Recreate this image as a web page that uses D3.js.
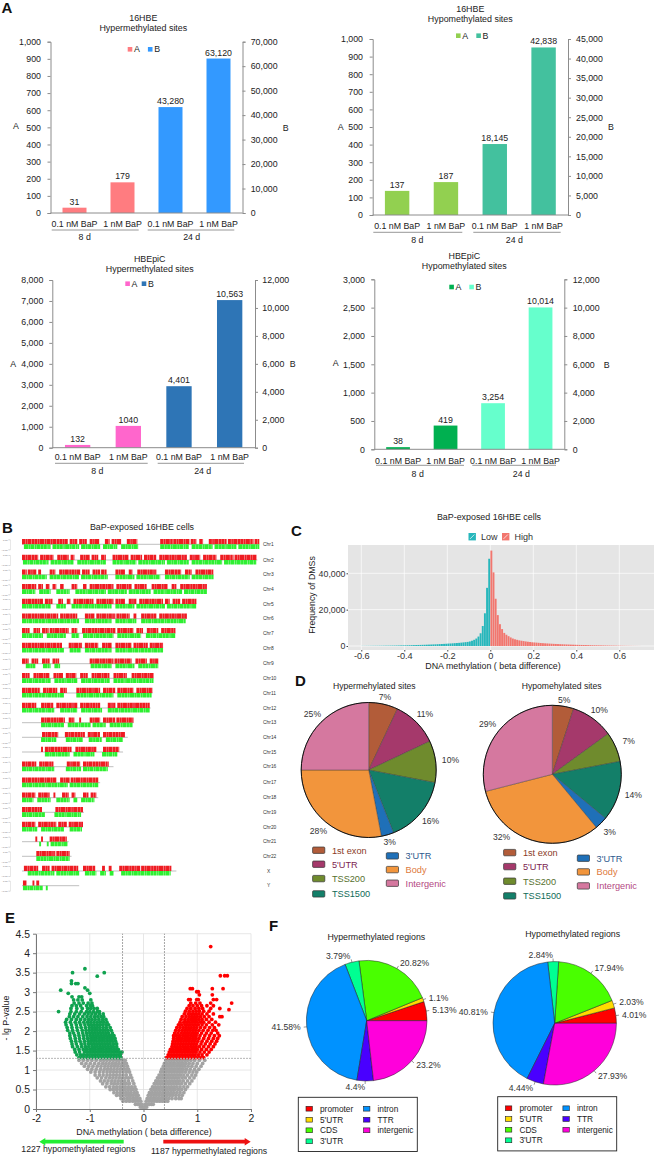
<!DOCTYPE html>
<html>
<head>
<meta charset="utf-8">
<script src="https://d3js.org/d3.v7.min.js"></script>
<style>
  body { margin: 0; background: #fff; }
  text { font-family: "Liberation Sans", Arial, sans-serif; fill: #222; }
</style>
</head>
<body>
<svg id="fig" width="659" height="1156"></svg>
<script>
// panel A: bar values, the first two bars read on axis A, the last two on axis B
var doseLabels = ["0.1 nM BaP", "1 nM BaP", "0.1 nM BaP", "1 nM BaP"];
var timeLabels = ["8 d", "24 d"];
var hbeHyperA = [31, 179], hbeHyperB = [43280, 63120];
var hbeHypoA = [137, 187], hbeHypoB = [18145, 42838];
var epicHyperA = [132, 1040], epicHyperB = [4401, 10563];
var epicHypoA = [38, 419], epicHypoB = [3254, 10014];

// panel B: chromosomes, lengths and covered stretches in Mb
var chrNames = ["Chr1","Chr2","Chr3","Chr4","Chr5","Chr6","Chr7","Chr8","Chr9","Chr10","Chr11","Chr12","Chr13","Chr14","Chr15","Chr16","Chr17","Chr18","Chr19","Chr20","Chr21","Chr22","X","Y"];
var chrLengths = [249,247,201,194,183,173,161,148,143,138,137,135,117,111,106,96,82,80,65,64,49,52,162,60];
var chrHigh = [
  [[0,48],[50,58],[60,68],[71,81],[87,92],[94,104],[110,121],[145,159],[159,176],[177,183],[186,190],[196,215],[216,229],[229,243],[244,249]],
  [[0,17],[19,33],[37,49],[51,55],[61,71],[73,80],[83,88],[95,112],[114,126],[128,141],[144,173],[176,187],[190,204],[208,222],[223,246]],
  [[0,5],[6,15],[17,20],[29,35],[39,61],[63,71],[74,82],[83,89],[98,108],[112,116],[121,141],[150,167],[171,178],[182,201]],
  [[0,15],[17,22],[25,29],[32,36],[40,44],[52,58],[64,68],[71,96],[99,115],[118,131],[136,153],[157,162],[166,194]],
  [[0,22],[24,32],[38,43],[47,51],[54,75],[78,96],[98,108],[112,120],[123,148],[150,155],[158,166],[168,183]],
  [[0,38],[40,58],[66,76],[78,98],[99,113],[117,120],[125,141],[144,173]],
  [[0,8],[12,19],[21,28],[29,49],[52,58],[63,98],[100,117],[120,127],[131,143],[146,161]],
  [[0,42],[49,63],[66,80],[84,94],[98,115],[117,132],[134,148]],
  [[0,7],[10,17],[21,29],[32,39],[71,96],[97,115],[119,131],[134,143]],
  [[0,8],[12,29],[33,43],[46,57],[61,69],[73,92],[96,110],[115,138]],
  [[0,19],[22,37],[40,47],[57,82],[85,98],[100,117],[120,137]],
  [[0,15],[20,33],[36,58],[61,82],[90,98],[100,134]],
  [[20,45],[49,55],[60,62],[71,82],[85,98],[99,117]],
  [[21,38],[45,66],[69,82],[85,108]],
  [[20,22],[24,52],[56,78],[85,102]],
  [[0,15],[18,33],[47,61],[64,91]],
  [[0,36],[40,50],[51,80]],
  [[0,14],[17,29],[33,35],[42,49],[52,56],[64,70],[72,78]],
  [[0,21],[35,64]],
  [[0,14],[17,36],[38,47],[49,64]],
  [[14,16],[20,22],[29,47]],
  [[15,35],[36,50]],
  [[2,17],[21,29],[31,59],[64,77],[84,87],[91,94],[102,124],[125,157]],
  [[1,5],[11,13],[15,18]]
];
var chrLow = [
  [[2,30],[32,60],[62,82],[85,100],[104,122],[145,175],[178,200],[202,225],[227,249]],
  [[1,28],[30,54],[58,88],[95,120],[122,150],[152,175],[178,210],[212,246]],
  [[0,26],[29,60],[62,90],[98,118],[120,145],[150,176],[178,201]],
  [[0,14],[18,30],[36,50],[56,88],[90,110],[112,135],[138,168],[170,194]],
  [[0,30],[36,46],[52,94],[98,118],[120,150],[152,183]],
  [[0,60],[66,94],[98,120],[125,172]],
  [[0,22],[26,46],[52,60],[64,96],[100,125],[130,161]],
  [[0,44],[50,62],[66,94],[98,148]],
  [[4,14],[22,30],[34,40],[72,94],[98,118],[122,143]],
  [[0,30],[34,58],[62,92],[96,138]],
  [[0,44],[57,96],[100,136]],
  [[0,34],[40,58],[62,84],[90,134]],
  [[20,44],[48,72],[74,88],[92,116]],
  [[20,36],[46,64],[70,84],[88,106]],
  [[24,50],[54,76],[84,100]],
  [[0,34],[46,62],[64,90]],
  [[0,48],[50,80]],
  [[0,12],[16,30],[36,50],[54,58],[62,76]],
  [[0,24],[34,62]],
  [[0,16],[20,44],[50,63]],
  [[18,20],[26,28],[30,48]],
  [[15,50]],
  [[6,34],[36,60],[66,78],[82,88],[92,96],[104,156]],
  [[1,22],[25,27]]
];

// panel C: counts per 0.01 wide bin, from -0.6 up to 0 and from 0 up to 0.7
var binWidth = 0.01;
var histLow = [60,65,80,90,95,110,125,130,145,150,170,185,195,210,235,250,265,290,320,340,370,395,425,450,485,520,565,595,640,680,725,765,820,875,915,980,1040,1105,1165,1240,1330,1385,1470,1560,1640,1735,1855,1970,2110,2250,2500,2900,3400,4100,5200,7000,11000,18000,32000,48000];
var histHigh = [52500,40500,26000,17000,12000,9300,7200,6200,5400,4700,4100,3700,3400,3100,2900,2700,2500,2350,2200,2050,1950,1850,1750,1650,1550,1470,1400,1320,1250,1180,1120,1060,1000,950,900,850,800,760,720,680,640,600,570,540,510,480,450,420,400,380,350,330,310,290,270,250,230,210,190,170,150,130,110,95,80,65,50,40,30,20];

// panel D: share of sites by region, percent
var siteRegions = ["1st exon","5'UTR","TSS200","TSS1500","3'UTR","Body","Intergenic"];
var siteHyper = [7,11,10,16,3,28,25];
var siteHypo = [5,10,7,14,3,32,29];

// panel E: -lg P rows, each row is [y, beta differences]
var volcanoGrey = [
  [.05,[-.06,-.03,-.01,.01,.03,.06]],
  [.12,[-.15,-.11,-.07,-.03,.03,.07,.11,.15,.18]],
  [.2,[-.38,-.32,-.26,-.2,-.15,-.1,-.05,.05,.1,.15,.2,.25,.3,.35,.4,.45]],
  [.27,[-.42,-.36,-.3,-.25,-.2,-.16,-.12,-.07,.07,.12,.17,.22,.27,.32,.37,.42,.47,.53,.6,.66,.7]],
  [.35,[-.5,-.44,-.39,-.33,-.28,-.24,-.19,-.14,-.1,.09,.14,.19,.24,.29,.34,.39,.44,.49,.54,.6,.66,.72]],
  [.42,[-.55,-.49,-.43,-.38,-.33,-.28,-.23,-.17,-.12,.11,.16,.21,.26,.31,.36,.41,.46,.51,.56,.62,.68,.75]],
  [.5,[-.62,-.56,-.5,-.44,-.39,-.34,-.29,-.24,-.19,-.14,.14,.19,.24,.29,.34,.39,.44,.49,.54,.59,.65,.71,.78]],
  [.57,[-.7,-.63,-.56,-.5,-.44,-.39,-.34,-.28,-.22,-.16,.17,.22,.27,.32,.37,.42,.47,.52,.57,.62,.68,.75,.82]],
  [.65,[-.76,-.68,-.6,-.54,-.48,-.42,-.37,-.32,-.26,-.18,.2,.25,.3,.35,.4,.45,.5,.55,.6,.65,.71,.78,.86]],
  [.72,[-.8,-.73,-.66,-.59,-.53,-.47,-.41,-.35,-.28,-.2,.23,.28,.33,.38,.43,.48,.53,.58,.63,.68,.74,.82,.9]],
  [.8,[-.86,-.78,-.7,-.63,-.57,-.51,-.45,-.39,-.33,-.28,-.22,.26,.31,.36,.41,.46,.51,.56,.61,.66,.72,.78,.86,.94]],
  [.87,[-.9,-.82,-.75,-.68,-.62,-.56,-.5,-.44,-.38,-.32,-.24,.29,.34,.39,.44,.49,.54,.59,.64,.69,.75,.82,.9,.97]],
  [.95,[-.98,-.9,-.82,-.75,-.68,-.62,-.56,-.5,-.44,-.38,-.32,-.26,.32,.37,.42,.47,.52,.57,.62,.67,.72,.78,.85,.92,.99]],
  [1.02,[-1.04,-.96,-.88,-.8,-.73,-.67,-.61,-.55,-.49,-.43,-.37,-.32,-.28,.34,.39,.44,.49,.54,.59,.64,.69,.74,.8,.87,.95,1.03]],
  [1.1,[-1.1,-1.02,-.94,-.86,-.79,-.72,-.66,-.6,-.54,-.48,-.42,-.36,-.3,.37,.42,.47,.52,.57,.62,.67,.72,.77,.83,.9,.98,1.07]],
  [1.17,[-1.15,-1.07,-.99,-.91,-.83,-.76,-.7,-.64,-.58,-.52,-.46,-.4,-.35,-.32,.39,.44,.49,.54,.59,.64,.69,.74,.79,.85,.92,1,1.1]],
  [1.25,[-1.2,-1.12,-1.04,-.96,-.88,-.8,-.74,-.68,-.62,-.56,-.5,-.45,-.39,-.34,.42,.47,.52,.57,.62,.67,.72,.77,.82,.88,.95,1.04,1.14]]
];
var volcanoHypo = [
  [1.32,[-1.2,-1.15,-1.1,-1.05,-1,-.95,-.9,-.85,-.8,-.75,-.7,-.65,-.6,-.55,-.5,-.45,-.42]],
  [1.39,[-1.24,-1.17,-1.12,-1.06,-1.01,-.96,-.91,-.86,-.81,-.76,-.71,-.66,-.61,-.56,-.51,-.46,-.43]],
  [1.46,[-1.27,-1.19,-1.1,-1.04,-.99,-.94,-.89,-.84,-.79,-.74,-.69,-.64,-.59,-.54,-.49,-.44,-.4]],
  [1.53,[-1.28,-1.2,-1.12,-1.06,-1,-.95,-.9,-.85,-.8,-.75,-.7,-.65,-.6,-.55,-.5,-.47]],
  [1.6,[-1.32,-1.23,-1.15,-1.08,-1.02,-.96,-.91,-.86,-.81,-.76,-.71,-.66,-.61,-.56,-.5]],
  [1.67,[-1.33,-1.25,-1.16,-1.09,-1.02,-.97,-.92,-.87,-.82,-.77,-.72,-.67,-.62,-.56,-.5]],
  [1.74,[-1.34,-1.26,-1.18,-1.1,-1.03,-.98,-.93,-.88,-.83,-.78,-.73,-.68,-.63,-.58,-.52]],
  [1.81,[-1.36,-1.27,-1.19,-1.11,-1.04,-.98,-.93,-.88,-.83,-.78,-.73,-.68,-.63,-.58,-.53]],
  [1.88,[-1.37,-1.28,-1.2,-1.12,-1.05,-.99,-.94,-.89,-.84,-.79,-.74,-.69,-.64,-.6,-.55]],
  [1.95,[-1.37,-1.3,-1.21,-1.13,-1.06,-1,-.95,-.9,-.85,-.8,-.75,-.7,-.65,-.58]],
  [2.02,[-1.41,-1.32,-1.23,-1.14,-1.07,-1.01,-.96,-.91,-.86,-.81,-.76,-.71,-.66,-.6]],
  [2.09,[-1.42,-1.33,-1.24,-1.16,-1.08,-1.01,-.96,-.91,-.86,-.81,-.75,-.69,-.62]],
  [2.16,[-1.44,-1.34,-1.25,-1.17,-1.09,-1.02,-.97,-.92,-.87,-.82,-.76,-.7,-.65]],
  [2.23,[-1.45,-1.36,-1.27,-1.19,-1.11,-1.04,-.98,-.92,-.86,-.8,-.74,-.68]],
  [2.3,[-1.43,-1.34,-1.25,-1.17,-1.09,-1.02,-.96,-.9,-.83,-.76,-.7]],
  [2.37,[-1.38,-1.3,-1.22,-1.13,-1.05,-.98,-.91,-.85,-.79,-.74]],
  [2.44,[-1.37,-1.28,-1.19,-1.1,-1.03,-.96,-.89,-.82,-.75]],
  [2.5,[-1.58,-1.35,-1.25,-1.16,-1.06,-1,-.93,-.86,-.82]],
  [2.58,[-1.35,-1.24,-1.14,-1.04,-.98,-.92,-.86]],
  [2.65,[-1.33,-1.25,-1.17,-1.06,-.99,-.95]],
  [2.72,[-1.29,-1.2,-1.12,-1.03,-.96]],
  [2.8,[-1.3,-1.22,-1.14,-.98]],
  [2.88,[-1.33,-1.2,-1.15]],
  [2.97,[-1.4,-1]],
  [3.05,[-1.54,-1.04]],
  [3.11,[-1.09]],
  [3.22,[-1.34,-1.26,-1.22]],
  [3.29,[-1.34]],
  [3.41,[-.86]],
  [3.5,[-1.32,-.73]],
  [3.6,[-1.09]]
];
var volcanoHyper = [
  [1.32,[.43,.48,.53,.58,.63,.68,.73,.78,.83,.88,.93,.98,1.03,1.08,1.12]],
  [1.39,[.46,.51,.56,.61,.66,.71,.76,.81,.86,.91,.96,1.02,1.09,1.18]],
  [1.46,[.48,.53,.58,.63,.68,.73,.78,.83,.88,.93,.98,1.05,1.13,1.22]],
  [1.53,[.5,.55,.6,.65,.7,.75,.8,.85,.9,.95,1,1.08,1.17,1.26]],
  [1.6,[.53,.58,.63,.68,.73,.78,.83,.88,.93,.98,1.04,1.12,1.21,1.3]],
  [1.67,[.54,.59,.64,.69,.74,.79,.84,.89,.94,.99,1.07,1.15,1.24,1.33]],
  [1.74,[.55,.6,.65,.7,.75,.8,.85,.9,.95,1.01,1.09,1.18,1.27,1.36]],
  [1.81,[.56,.62,.67,.72,.77,.82,.87,.92,.97,1.03,1.12,1.21,1.3,1.38]],
  [1.88,[.56,.61,.67,.73,.78,.83,.88,.93,.98,1.05,1.14,1.23,1.32,1.41]],
  [1.95,[.58,.64,.7,.75,.8,.85,.9,.95,1,1.08,1.17,1.26,1.38]],
  [2.02,[.6,.66,.72,.77,.82,.87,.92,.97,1.03,1.11,1.2,1.29,1.35]],
  [2.09,[.62,.68,.74,.79,.84,.89,.94,.99,1.06,1.14,1.23,1.32]],
  [2.16,[.65,.71,.77,.82,.87,.92,.97,1.02,1.09,1.17,1.28,1.4]],
  [2.23,[.68,.75,.8,.85,.9,.95,1,1.06,1.12,1.22,1.34]],
  [2.3,[.7,.77,.83,.88,.93,.98,1.03,1.09,1.17,1.27]],
  [2.37,[.72,.79,.85,.9,.95,1,1.06,1.13,1.22,1.42,1.46]],
  [2.44,[.76,.83,.88,.93,.98,1.03,1.09,1.18,1.3]],
  [2.51,[.78,.85,.92,.98,1.04,1.12,1.22]],
  [2.55,[1.59]],
  [2.58,[.81,.88,.96,1.03,1.1,1.25,1.42]],
  [2.65,[.85,.92,1,1.08,1.18,1.3]],
  [2.72,[.88,.97,1.05,1.25,1.64]],
  [2.81,[.84,.87,.99,1.02,1.3,1.36]],
  [2.93,[1.04,1.28]],
  [3.01,[.99,1.02]],
  [3.09,[.87,.91,1.28,1.48]],
  [3.42,[1.43,1.51,1.56]],
  [4.17,[1.25]]
];

// panel F: share of regions by feature, percent
var regionNames = ["promoter","5'UTR","CDS","3'UTR","intron","TTR","intergenic"];
var regionHyper = [5.13,1.1,20.82,3.79,41.58,4.4,23.2];
var regionHypo = [4.01,2.03,17.94,2.84,40.81,4.44,27.93];

var svg = d3.select("#fig");
var tickFont = 8.8, titleFont = 8.9;

var blur = svg.append("defs").append("filter").attr("id", "soft");
blur.append("feGaussianBlur").attr("stdDeviation", 0.35);

function label(g, x, y, txt, size, anchor, color) {
  return g.append("text").attr("x", x).attr("y", y).attr("dy", "0.35em")
    .attr("text-anchor", anchor || "middle").style("font-size", (size || tickFont) + "px")
    .style("fill", color || "#222").text(txt);
}

function barPanel(p) {
  var g = svg.append("g");
  var x = d3.scaleBand().domain(d3.range(4)).range([p.left, p.right]).paddingInner(0.5).paddingOuter(0.25);
  var yA = d3.scaleLinear().domain([0, p.maxA]).range([p.bottom, p.top]);
  var yB = d3.scaleLinear().domain([0, p.maxB]).range([p.bottom, p.top]);
  var fmt = d3.format(",");
  var bars = p.a.map(function(v, i) { return {i: i, v: v, y: yA(v), c: p.colors[0], t: String(v)}; })
    .concat(p.b.map(function(v, i) { return {i: i + 2, v: v, y: yB(v), c: p.colors[1], t: fmt(v)}; }));

  g.selectAll("rect.bar").data(bars).enter().append("rect").attr("class", "bar")
    .attr("x", function(d) { return x(d.i); })
    .attr("y", function(d) { return d.y; })
    .attr("width", x.bandwidth())
    .attr("height", function(d) { return p.bottom - d.y; })
    .style("fill", function(d) { return d.c; });

  g.selectAll("text.val").data(bars).enter().append("text").attr("class", "val")
    .attr("x", function(d) { return x(d.i) + x.bandwidth() / 2; })
    .attr("y", function(d) { return d.y - 3; })
    .attr("text-anchor", "middle").style("font-size", tickFont + "px")
    .text(function(d) { return d.t; });

  var left = g.append("g").attr("transform", "translate(" + p.left + ",0)")
    .call(d3.axisLeft(yA).tickValues(d3.range(0, p.maxA + 1, p.stepA)).tickFormat(fmt).tickSize(3).tickSizeOuter(3));
  var right = g.append("g").attr("transform", "translate(" + p.right + ",0)")
    .call(d3.axisRight(yB).tickValues(d3.range(0, p.maxB + 1, p.stepB)).tickFormat(fmt).tickSize(3).tickSizeOuter(3));
  [left, right].forEach(function(a) {
    a.selectAll("path,line").style("stroke", "#8c8c8c");
    a.selectAll("text").style("font-size", tickFont + "px").style("font-family", "Liberation Sans").style("fill", "#222");
  });
  left.selectAll("text").attr("x", p.tickL - p.left);
  right.selectAll("text").attr("x", p.tickR - p.right);
  g.append("line").attr("x1", p.left).attr("x2", p.right).attr("y1", p.bottom).attr("y2", p.bottom).style("stroke", "#8c8c8c");

  p.title.forEach(function(t, i) { label(g, p.titleX, p.titleY[i], t, titleFont); });
  label(g, p.labelA[0], p.labelA[1], "A");
  label(g, p.labelB[0], p.labelB[1], "B");

  p.legend.forEach(function(l, i) {
    g.append("rect").attr("x", l).attr("y", p.legendY - 2.3).attr("width", 4.6).attr("height", 4.6).style("fill", p.colors[i]);
    label(g, l + 6.3, p.legendY, ["A", "B"][i], 8.8, "start");
  });

  doseLabels.forEach(function(t, i) { label(g, x(i) + x.bandwidth() / 2, p.catY, t); });
  timeLabels.forEach(function(t, i) {
    g.append("line").attr("x1", p.under[i][0]).attr("x2", p.under[i][1]).attr("y1", p.underY).attr("y2", p.underY)
      .style("stroke", "#8c8c8c").style("stroke-width", 0.9);
    label(g, p.timeX[i], p.timeY, t);
  });
}

barPanel({left: 50.5, right: 242.5, top: 41.7, bottom: 213, maxA: 1000, stepA: 100, maxB: 70000, stepB: 10000,
  a: hbeHyperA, b: hbeHyperB, colors: ["#FF7C80", "#3399FF"], title: ["16HBE", "Hypermethylated sites"],
  titleX: 143.3, titleY: [17.7, 28.3], labelA: [16, 125.7], labelB: [285.7, 128], legend: [127.7, 147.9], legendY: 49.3,
  tickL: 41, tickR: 250.7, catY: 224, under: [[51.7, 138.7], [147.7, 234.3]], underY: 230, timeX: [84.7, 191.7], timeY: 237.3});
barPanel({left: 372.7, right: 568, top: 39, bottom: 215, maxA: 1000, stepA: 100, maxB: 45000, stepB: 5000,
  a: hbeHypoA, b: hbeHypoB, colors: ["#92D050", "#43C19E"], title: ["16HBE", "Hypomethylated sites"],
  titleX: 470.3, titleY: [8.7, 19.3], labelA: [340.7, 127.3], labelB: [611, 127.3], legend: [456, 476.3], legendY: 35.7,
  tickL: 363, tickR: 576, catY: 225.7, under: [[373.3, 462.3], [473.3, 560.7]], underY: 232.3, timeX: [417.3, 514.3], timeY: 240.3});
barPanel({left: 52.3, right: 255, top: 280, bottom: 447.7, maxA: 8000, stepA: 1000, maxB: 12000, stepB: 2000,
  a: epicHyperA, b: epicHyperB, colors: ["#FF66CC", "#2E75B6"], title: ["HBEpiC", "Hypermethylated sites"],
  titleX: 149.7, titleY: [259, 269], labelA: [13.3, 364], labelB: [292.7, 364.3], legend: [125.3, 141.7], legendY: 283.7,
  tickL: 43.3, tickR: 262.3, catY: 457.3, under: [[55, 147.7], [157.7, 244]], underY: 463.3, timeX: [97.3, 202.7], timeY: 471});
barPanel({left: 374.3, right: 564.3, top: 279.3, bottom: 449.3, maxA: 3000, stepA: 500, maxB: 12000, stepB: 2000,
  a: epicHypoA, b: epicHypoB, colors: ["#00B050", "#66FFCC"], title: ["HBEpiC", "Hypomethylated sites"],
  titleX: 464.3, titleY: [255.7, 266], labelA: [335.7, 363], labelB: [606.7, 364.7], legend: [449.3, 469.3], legendY: 287,
  tickL: 365, tickR: 572.7, catY: 460.7, under: [[376, 464], [472.3, 556]], underY: 465.3, timeX: [417.7, 521.3], timeY: 473.7});

// panel letters
[["A", 1.5, 12.5], ["B", 2, 533], ["C", 291, 535.5], ["D", 295, 685.5], ["E", 5, 922.5], ["F", 269, 931]].forEach(function(l) {
  svg.append("text").attr("x", l[1]).attr("y", l[2]).style("font-size", "15px").style("font-weight", "bold").style("fill", "#111").text(l[0]);
});

// panel B
(function() {
  var g = svg.append("g");
  var bands = g.append("g").attr("filter", "url(#soft)");
  var rowY = [544.3,560,574.7,589.3,604,618.7,633.3,648,663.7,678.3,693,708,722.7,737.3,752,766.7,782.7,797.7,812.3,827,841.7,856.3,871,885.7];
  var x = d3.scaleLinear().domain([0, 249]).range([22, 259.3]);
  label(g, 142, 526.7, "BaP-exposed 16HBE cells", 8.9);

  chrNames.forEach(function(name, i) {
    var y = rowY[i];
    bands.append("line").attr("x1", x(0)).attr("x2", x(chrLengths[i])).attr("y1", y).attr("y2", y)
      .style("stroke", "#b8b8b8").style("stroke-width", 0.9);
    // dash pattern stands in for the comb of single sites inside a stretch
    bands.selectAll("line.hi" + i).data(chrHigh[i]).enter().append("line").attr("class", "hi" + i)
      .attr("x1", function(d) { return x(d[0]); }).attr("x2", function(d) { return x(d[1]); })
      .attr("y1", y - 2.6).attr("y2", y - 2.6)
      .style("stroke", "#EE1B24").style("stroke-width", 5.2).style("stroke-dasharray", "3.1 .3 1.7 .25 4.3 .35 2.2 .25");
    bands.selectAll("line.lo" + i).data(chrLow[i]).enter().append("line").attr("class", "lo" + i)
      .attr("x1", function(d) { return x(d[0]); }).attr("x2", function(d) { return x(d[1]); })
      .attr("y1", y + 2.3).attr("y2", y + 2.3)
      .style("stroke", "#2FEF32").style("stroke-width", 4.6).style("stroke-dasharray", "4.1 .3 2.3 .25 3.4 .4 1.6 .25");
    var s = d3.scaleLinear().domain([-0.6, 0.6]).range([y + 5, y - 5]);
    var ax = g.append("g").attr("transform", "translate(10,0)")
      .call(d3.axisLeft(s).tickValues([-0.6, 0.6]).tickSize(1.6).tickPadding(0.8).tickFormat(d3.format(".2f")));
    ax.selectAll("path,line").style("stroke", "#bbb").style("stroke-width", 0.35);
    ax.selectAll("text").style("font-size", "2.4px").style("font-family", "Liberation Sans").style("fill", "#666");
    label(g, name.length == 1 ? 267 : 263, y, name, 4.9, "start", "#333");
  });
})();

// panel C
(function() {
  var g = svg.append("g");
  var L = 348, R = 654, T = 545, B = 650;
  var x = d3.scaleLinear().domain([-0.6, 0.6]).range([361.3, 619.3]);
  var y = d3.scaleLinear().domain([0, 40000]).range([646, 573.3]);
  g.append("rect").attr("x", L).attr("y", T).attr("width", R - L).attr("height", B - T).style("fill", "#E5E5E5");
  [-0.6, -0.4, -0.2, 0, 0.2, 0.4, 0.6].forEach(function(v) {
    g.append("line").attr("x1", x(v)).attr("x2", x(v)).attr("y1", T).attr("y2", B).style("stroke", "#fff").style("stroke-width", 0.7);
  });
  [0, 20000, 40000].forEach(function(v) {
    g.append("line").attr("x1", L).attr("x2", R).attr("y1", y(v)).attr("y2", y(v)).style("stroke", "#fff").style("stroke-width", 0.7);
  });
  var bins = histLow.map(function(v, i) { return {start: -0.6 + i * binWidth, v: v, c: "#27B7BC"}; })
    .concat(histHigh.map(function(v, i) { return {start: i * binWidth, v: v, c: "#F2766E"}; }));
  g.selectAll("rect.bin").data(bins).enter().append("rect").attr("class", "bin")
    .attr("x", function(d) { return x(d.start) + 0.1; })
    .attr("width", x(binWidth) - x(0) - 0.25)
    .attr("y", function(d) { return y(d.v); })
    .attr("height", function(d) { return y(0) - y(d.v); })
    .style("fill", function(d) { return d.c; });

  var ax = g.append("g").attr("transform", "translate(0," + B + ")")
    .call(d3.axisBottom(x).tickValues([-0.6, -0.4, -0.2, 0, 0.2, 0.4, 0.6]).tickSize(1.5).tickPadding(1).tickSizeOuter(0).tickFormat(function(d) { return d == 0 ? "0" : d3.format(".1f")(d).replace("\u2212", "-"); }));
  var ay = g.append("g").attr("transform", "translate(" + L + ",0)")
    .call(d3.axisLeft(y).tickValues([0, 20000, 40000]).tickSize(1.5).tickPadding(1).tickSizeOuter(0).tickFormat(d3.format(",")));
  [ax, ay].forEach(function(a) {
    a.select("path").remove();
    a.selectAll("line").style("stroke", "#444");
    a.selectAll("text").style("font-family", "Liberation Sans").style("fill", "#333");
  });
  ax.selectAll("text").style("font-size", "9.2px");
  ay.selectAll("text").style("font-size", "8.8px");
  label(g, 489, 516.7, "BaP-exposed 16HBE cells", 8.9);
  label(g, 493, 665.5, "DNA methylation ( beta difference)", 8.9);
  label(g, 0, 0, "Frequency of DMSs", 8.8).attr("transform", "translate(312,595) rotate(-90)");
  [[468.5, "Low", "#27B7BC"], [502, "High", "#F2766E"]].forEach(function(k) {
    g.append("rect").attr("x", k[0]).attr("y", 533).attr("width", 7.4).attr("height", 7.4).style("fill", k[2]);
    g.append("line").attr("x1", k[0] + 1.5).attr("x2", k[0] + 5.9).attr("y1", 538.9).attr("y2", 534.5).style("stroke", "#fff").style("stroke-width", 0.7);
    label(g, k[0] + 12.5, 536.7, k[1], 9, "start", "#333");
  });
})();

// panels D and F
var siteColors = ["#B25C39", "#A5396B", "#6F8B2D", "#137F69", "#1F70B8", "#F2953C", "#D5789F"];
var siteTextColors = ["#8A3B1F", "#7B2450", "#56702E", "#0F6B58", "#2E5A8E", "#DE7A3C", "#B4487F"];
var regionColors = ["#FF0000", "#FFDB00", "#49FF00", "#00FF92", "#0092FF", "#4900FF", "#FF00DB"];

function sitePie(p) {
  var g = svg.append("g").attr("transform", "translate(" + p.cx + "," + p.cy + ")");
  var arcs = d3.pie().sort(null)(p.values);
  var arc = d3.arc().innerRadius(0).outerRadius(p.r);
  g.selectAll("path").data(arcs).enter().append("path").attr("d", arc)
    .style("fill", function(d, i) { return siteColors[i]; })
    .style("stroke", "#3a3a3a").style("stroke-width", 0.4);
  g.append("circle").attr("r", p.r).style("fill", "none").style("stroke", "#111").style("stroke-width", 1);
  arcs.forEach(function(d, i) {
    // some labels were dragged away from the middle of their slice in the original
    var a = (d.startAngle + d.endAngle) / 2 + (p.turn && p.turn[i] || 0);
    var rr = p.r + 5 + 10 * Math.abs(Math.sin(a));
    label(g, rr * Math.sin(a), -rr * Math.cos(a), d.value + "%", 8.6, "middle", "#333");
  });
  label(svg, p.cx + p.titleDx, 686, p.title, 8.6);
  siteRegions.forEach(function(name, i) {
    var k = p.keys[i];
    svg.append("rect").attr("x", k[0]).attr("y", k[1] - 3.3).attr("width", 12.2).attr("height", 6.4).attr("rx", 1)
      .style("fill", siteColors[i]).style("stroke", "#333").style("stroke-width", 0.7);
    label(svg, k[0] + 19.3, k[1], name, 9.2, "start", siteTextColors[i]);
  });
}
sitePie({cx: 368.7, cy: 770, r: 67.5, values: siteHyper, title: "Hypermehylated sites", titleDx: 5.6,
  keys: [[312.6, 850.3], [312.6, 864.3], [312.6, 878.7], [312.6, 894], [386.3, 856], [386.3, 869.7], [386.3, 883.3]]});
sitePie({cx: 552.3, cy: 774.3, r: 69, values: siteHypo, title: "Hypomehylated sites", titleDx: 9.4, turn: {5: 0.37},
  keys: [[503.6, 852.7], [503.6, 866.7], [503.6, 881.3], [503.6, 896], [577.3, 858.3], [577.3, 872], [577.3, 886]]});

function regionPie(p) {
  var g = svg.append("g").attr("transform", "translate(" + p.cx + "," + p.cy + ")");
  // base R style pie, counter-clockwise from three o'clock
  var arcs = d3.pie().sort(null).startAngle(Math.PI / 2).endAngle(Math.PI / 2 - 2 * Math.PI)(p.values);
  var arc = d3.arc().innerRadius(0).outerRadius(p.r);
  g.selectAll("path").data(arcs).enter().append("path").attr("d", arc)
    .style("fill", function(d, i) { return regionColors[i]; })
    .style("stroke", "#222").style("stroke-width", 0.5);
  arcs.forEach(function(d) {
    var a = (d.startAngle + d.endAngle) / 2, s = Math.sin(a), c = -Math.cos(a);
    g.append("line").attr("x1", p.r * s).attr("y1", p.r * c).attr("x2", 1.05 * p.r * s).attr("y2", 1.05 * p.r * c).style("stroke", "#333").style("stroke-width", 0.5);
    label(g, 1.1 * p.r * s, 1.1 * p.r * c, d.value + "%", 8.6, s < 0 ? "end" : "start", "#333");
  });
  label(svg, p.titleX, p.titleY, p.title, 8.8);
  svg.append("rect").attr("x", p.box[0]).attr("y", p.box[1]).attr("width", 119).attr("height", 54.2)
    .style("fill", "#fff").style("stroke", "#222").style("stroke-width", 0.9);
  regionNames.forEach(function(name, i) {
    var col = i < 4 ? 0 : 1, row = i < 4 ? i : i - 4;
    var kx = p.box[0] + (col ? 65.2 : 7.7), ky = p.rows[row];
    svg.append("rect").attr("x", kx).attr("y", ky - 2.4).attr("width", 6.4).attr("height", 4.8)
      .style("fill", regionColors[i]).style("stroke", "#222").style("stroke-width", 0.6);
    label(svg, kx + 14, ky, name, 8.3, "start");
  });
}
regionPie({cx: 366.7, cy: 1020.7, r: 60.3, values: regionHyper, title: "Hypermethylated regions", titleX: 376.3, titleY: 936.7,
  box: [298.3, 1097.3], rows: [1108.7, 1119.7, 1130.3, 1141.3]});
regionPie({cx: 554.7, cy: 1023.3, r: 61.7, values: regionHypo, title: "Hypomethylated regions", titleX: 572.7, titleY: 934.3,
  box: [497.7, 1096.7], rows: [1108.3, 1119, 1129.7, 1140.3]});

// panel E
(function() {
  var g = svg.append("g");
  var x = d3.scaleLinear().domain([-2, 2]).range([36, 251]);
  var y = d3.scaleLinear().domain([0, 4.5]).range([1109, 933.7]);
  var flat = function(rows) {
    return d3.merge(rows.map(function(r) { return r[1].map(function(v) { return [v, r[0]]; }); }));
  };
  d3.range(0.5, 4.6, 0.5).forEach(function(v) {
    g.append("line").attr("x1", x(-2)).attr("x2", x(2)).attr("y1", y(v)).attr("y2", y(v)).style("stroke", "#dcdcdc").style("stroke-width", 0.7);
  });
  [-2, -1, 0, 1, 2].forEach(function(v) {
    g.append("line").attr("x1", x(v)).attr("x2", x(v)).attr("y1", y(0)).attr("y2", y(4.5)).style("stroke", "#dcdcdc").style("stroke-width", 0.7);
  });
  [[volcanoGrey, "#A3A3A3"], [volcanoHypo, "#0FA24F"], [volcanoHyper, "#FF0000"]].forEach(function(s) {
    g.append("g").selectAll("circle").data(flat(s[0])).enter().append("circle")
      .attr("cx", function(d) { return x(d[0]); })
      .attr("cy", function(d) { return y(d[1]); })
      .attr("r", 1.9).style("fill", s[1]);
  });
  [-0.39, 0.39].forEach(function(v) {
    g.append("line").attr("x1", x(v)).attr("x2", x(v)).attr("y1", y(0)).attr("y2", y(4.5))
      .style("stroke", "#808080").style("stroke-width", 0.7).style("stroke-dasharray", "2 1");
  });
  g.append("line").attr("x1", x(-2)).attr("x2", x(2)).attr("y1", y(1.3)).attr("y2", y(1.3))
    .style("stroke", "#b5b5b5").style("stroke-width", 1).style("stroke-dasharray", "2 1");

  var ax = g.append("g").attr("transform", "translate(0," + y(0) + ")")
    .call(d3.axisBottom(x).tickValues([-2, -1, 0, 1, 2]).tickSize(3).tickSizeOuter(0).tickFormat(function(d) { return String(d); }));
  var ay = g.append("g").attr("transform", "translate(" + x(-2) + ",0)")
    .call(d3.axisLeft(y).tickValues(d3.range(0, 4.6, 0.5)).tickSize(3).tickSizeOuter(0).tickFormat(function(d) { return String(d); }));
  [ax, ay].forEach(function(a) {
    a.selectAll("path,line").style("stroke", "#777");
    a.selectAll("text").style("font-size", "10.4px").style("font-family", "Liberation Sans").style("fill", "#222");
  });
  label(g, 144, 1132, "DNA methylation ( beta difference)", 8.9);
  label(g, 0, 0, "- lg P-value", 8.9).attr("transform", "translate(5.7,1018) rotate(-90)");

  [[123.7, 39.3, "#22EE33"], [163.3, 250.7, "#EE1111"]].forEach(function(a) {
    var dir = a[1] > a[0] ? 1 : -1, yy = 1141.7;
    g.append("path").attr("d", d3.line()([[a[0], yy - 1.9], [a[1] - dir * 6, yy - 1.9], [a[1] - dir * 6, yy - 3.8], [a[1], yy], [a[1] - dir * 6, yy + 3.8], [a[1] - dir * 6, yy + 1.9], [a[0], yy + 1.9]]))
      .style("fill", a[2]);
  });
  label(g, 78.3, 1149, "1227 hypomethylated regions", 8.7);
  label(g, 209, 1151.3, "1187 hypermethylated regions", 8.7);
})();
</script>
</body>
</html>
